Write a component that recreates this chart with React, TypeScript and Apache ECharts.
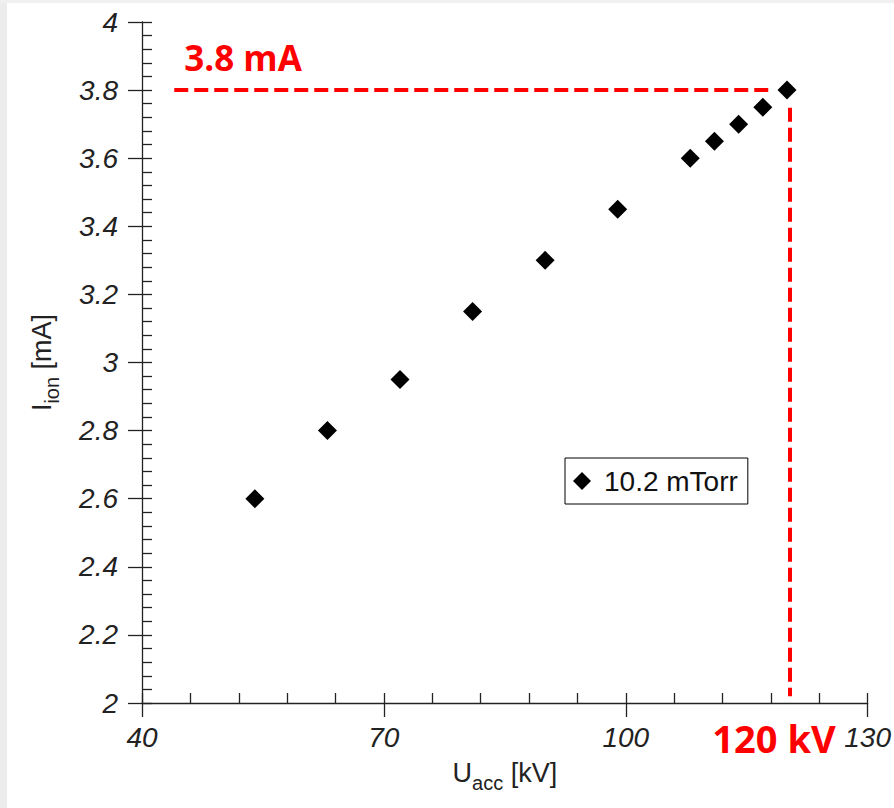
import React, { useEffect, useRef } from "react";
import * as echarts from "echarts";

// Data
const uAcc = [54, 63, 72, 81, 90, 99, 108, 111, 114, 117, 120];
const iIon = [2.6, 2.8, 2.95, 3.15, 3.3, 3.45, 3.6, 3.65, 3.7, 3.75, 3.8];
const seriesName = "10.2 mTorr";

// Annotation lines (data coordinates)
const hLineX = [44, 118];
const hLineY = 3.8;
const vLineX = 120.4;
const vLineY = [3.748, 2.02];

const xMin = 40, xMax = 130, xInterval = 30;
const yMin = 2, yMax = 4, yInterval = 0.2;

const AXIS_COLOR = "#222";
const LABEL_FONT = "'Liberation Sans', Arial, Helvetica, sans-serif";

export default function App() {
  const ref = useRef<HTMLDivElement>(null);
  useEffect(() => {
    if (!ref.current) return;
    const chart = echarts.init(ref.current, undefined, { renderer: "svg" });
    const data = uAcc.map((x, i) => [x, iIon[i]]);
    const labelStyle = {
      fontFamily: LABEL_FONT,
      fontStyle: "italic" as const,
      fontSize: 28,
      color: AXIS_COLOR,
    };
    const nameRich = {
      m: { fontFamily: LABEL_FONT, fontSize: 27, lineHeight: 40, color: AXIS_COLOR },
      s: {
        fontFamily: LABEL_FONT,
        fontSize: 20,
        lineHeight: 20,
        verticalAlign: "bottom" as const,
        color: AXIS_COLOR,
      },
    };
    const baseX = {
      type: "value" as const,
      min: xMin,
      max: xMax,
      interval: xInterval,
      splitLine: { show: false },
    };
    const baseY = {
      type: "value" as const,
      min: yMin,
      max: yMax,
      interval: yInterval,
      splitLine: { show: false },
    };
    chart.setOption({
      animation: false,
      backgroundColor: "#fff",
      grid: { left: 142, right: 24, top: 22, bottom: 105, containLabel: false },
      xAxis: [
        {
          ...baseX,
          position: "bottom",
          name: "{m|U}{s|acc}{m| [kV]}",
          nameLocation: "middle",
          nameGap: 50,
          nameTextStyle: { rich: nameRich },
          axisLine: { show: true, lineStyle: { color: AXIS_COLOR, width: 1.3 } },
          axisTick: { show: true, inside: true, length: 10, lineStyle: { color: AXIS_COLOR, width: 1.3 } },
          minorTick: { show: true, splitNumber: 5, length: 10, lineStyle: { color: AXIS_COLOR, width: 1.3 } },
          axisLabel: { ...labelStyle, margin: 20 },
        },
        {
          ...baseX,
          position: "bottom",
          axisLine: { show: false },
          axisTick: { show: true, inside: false, length: 14, lineStyle: { color: AXIS_COLOR, width: 1.3 } },
          axisLabel: { show: false },
        },
      ],
      yAxis: [
        {
          ...baseY,
          position: "left",
          name: "{m|I}{s|ion}{m| [mA]}",
          nameLocation: "middle",
          nameGap: 80,
          nameRotate: 90,
          nameTextStyle: { rich: nameRich },
          axisLine: { show: true, lineStyle: { color: AXIS_COLOR, width: 1.3 } },
          axisTick: { show: true, inside: true, length: 10, lineStyle: { color: AXIS_COLOR, width: 1.3 } },
          minorTick: { show: true, splitNumber: 5, length: 10, lineStyle: { color: AXIS_COLOR, width: 1.3 } },
          axisLabel: {
            ...labelStyle,
            margin: 24,
            formatter: (v: number) => String(parseFloat(v.toFixed(1))),
          },
        },
        {
          ...baseY,
          position: "left",
          axisLine: { show: false },
          axisTick: { show: true, inside: false, length: 14, lineStyle: { color: AXIS_COLOR, width: 1.3 } },
          axisLabel: { show: false },
        },
      ],
      legend: {
        data: [seriesName],
        left: 565,
        top: 458,
        orient: "vertical",
        icon: "diamond",
        itemWidth: 18,
        itemHeight: 18,
        padding: [9, 10, 9, 8],
        borderColor: "#000",
        borderWidth: 1,
        backgroundColor: "#fff",
        itemStyle: { color: "#000", opacity: 1 },
        textStyle: {
          fontFamily: LABEL_FONT,
          fontSize: 28,
          color: "#111",
          padding: [0, 0, 0, 8],
        },
      },
      graphic: [
        { type: "rect", left: 0, top: 0, shape: { width: 7, height: 808 }, style: { fill: "#ececec" }, silent: true },
        { type: "rect", left: 0, top: 0, shape: { width: 894, height: 3 }, style: { fill: "#f0f0f0" }, silent: true },
        {
          type: "text",
          x: 243,
          y: 57,
          style: {
            text: "3.8 mA",
            fill: "#ff0000",
            font: "bold 35px 'Open Sans', 'Noto Sans', sans-serif",
            textAlign: "center",
            textVerticalAlign: "middle",
          },
        },
        {
          type: "text",
          x: 774,
          y: 738,
          style: {
            text: "120 kV",
            fill: "#ff0000",
            font: "bold 38px 'Open Sans', 'Noto Sans', sans-serif",
            textAlign: "center",
            textVerticalAlign: "middle",
          },
        },
      ],
      series: [
        {
          name: seriesName,
          type: "scatter",
          xAxisIndex: 0,
          yAxisIndex: 0,
          symbol: "diamond",
          symbolSize: 19,
          itemStyle: { color: "#000", opacity: 1 },
          data,
          z: 3,
          markLine: {
            silent: true,
            symbol: "none",
            label: { show: false },
            lineStyle: { color: "#ff0000", width: 4, type: [14, 6], opacity: 1 },
            data: [
              [{ coord: [hLineX[0], hLineY] }, { coord: [hLineX[1], hLineY] }],
              [{ coord: [vLineX, vLineY[0]] }, { coord: [vLineX, vLineY[1]] }],
            ],
          },
        },
      ],
    });
    return () => chart.dispose();
  }, []);
  return (
    <div
      ref={ref}
      style={{ position: "fixed", left: 0, top: 0, width: 894, height: 808 }}
    />
  );
}
